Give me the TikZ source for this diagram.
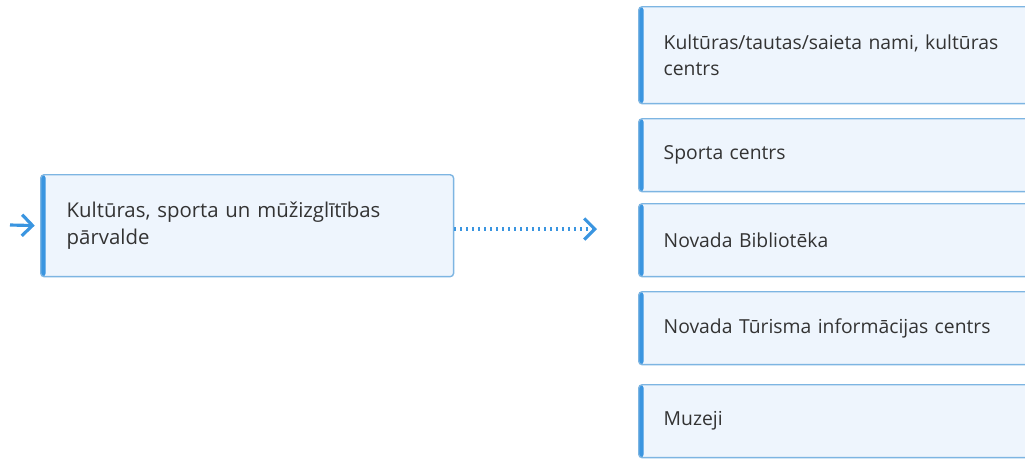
\documentclass[tikz,border=0pt]{standalone}
\usepackage{fontspec}
\setmainfont{Open Sans}
\usepackage{tikz}
\usetikzlibrary{arrows.meta,positioning,calc}
\definecolor{boxfill}{HTML}{EEF5FD}
\definecolor{boxline}{HTML}{7DB5E2}
\definecolor{accent}{HTML}{3A95E0}
\definecolor{txt}{HTML}{333333}
\tikzstyle{unit}=[box/.style={draw=boxline,fill=boxfill,line width=0.8pt,
                rounded corners=2pt,anchor=north west,align=left,text=txt,
                font=\fontsize{11}{14.7}\selectfont,
                path picture={\fill[accent] (path picture bounding box.north west)
                  rectangle ([xshift=0.1cm]path picture bounding box.south west);}}]
\tikzstyle{hit}=[->,>={Straight Barb[length=6pt,width=12pt,line width=1.8pt]},
                draw=accent,line width=1.8pt]

\begin{document}
\begin{tikzpicture}[x=0.02cm,y=-0.02cm,unit]

% % % % % % % % % % % % % % %

\useasboundingbox (0,0) rectangle (1025,458);
\clip (0,0) rectangle (1025,458);

\node[box,minimum width=8.26cm,minimum height=2.04cm,text width=7.22cm,
      inner xsep=0.52cm,font=\fontsize{11.6}{15.3}\selectfont] (main) at (40,174)
      {Kultūras, sporta un mūžizglītības\\pārvalde};

\node[box,minimum width=8.3cm,minimum height=1.94cm,text width=7.3cm,
      inner xsep=0.5cm] (kult) at (638,6)
      {Kultūras/tautas/saieta nami, kultūras\\centrs};
\node[box,minimum width=8.3cm,minimum height=1.46cm,text width=7.3cm,
      inner xsep=0.5cm] (sport) at (638,118) {Sporta centrs};
\node[box,minimum width=8.3cm,minimum height=1.46cm,text width=7.3cm,
      inner xsep=0.5cm] (bibl) at (638,203) {Novada Bibliotēka};
\node[box,minimum width=8.3cm,minimum height=1.46cm,text width=7.3cm,
      inner xsep=0.5cm] (tic) at (638,291) {Novada Tūrisma informācijas centrs};
\node[box,minimum width=8.3cm,minimum height=1.46cm,text width=7.3cm,
      inner xsep=0.5cm] (muz) at (638,384) {Muzeji};

\coordinate (src) at (10,225);
\coordinate (dst) at (597,229);
\draw[hit,shorten >=3pt] (src) -- (main.west);
\draw[hit,dash pattern=on 1.2pt off 2.2pt] (main.east |- dst) -- (dst);

\end{tikzpicture}
\end{document}
